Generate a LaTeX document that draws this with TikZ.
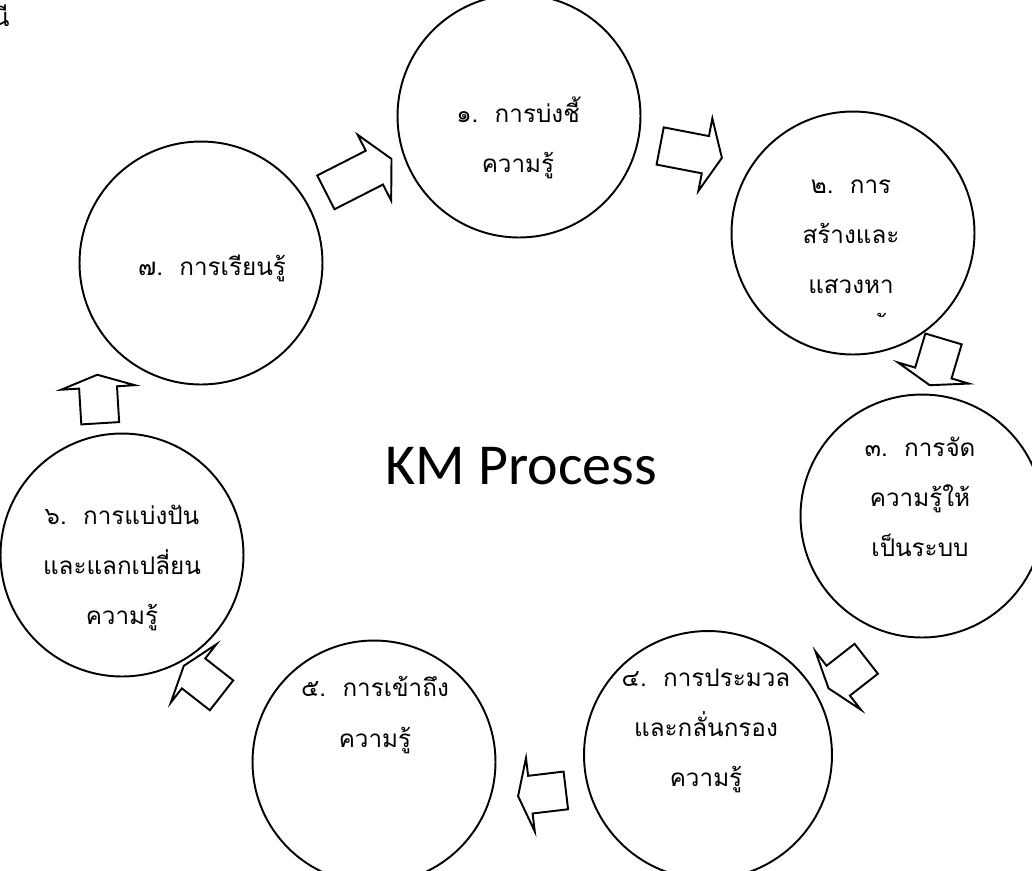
\documentclass[tikz,border=0pt]{standalone}
\usepackage{fontspec}
\newfontfamily\thaifont[Script=Thai]{Loma}
\newfontfamily\kmfont{Carlito}
\usetikzlibrary{shapes.arrows}
\begin{document}
\begin{tikzpicture}[x=0.02cm,y=-0.02cm,
  ring/.style={circle,draw,line width=1.1pt,inner sep=0pt,minimum size=4.86cm},
  label/.style={align=center,inner sep=0pt,font=\thaifont\fontsize{13.8}{28.5}\selectfont},
  blockarr/.style={single arrow,draw,line width=1.1pt,inner xsep=0pt,inner ysep=0.36cm,
    minimum width=1.44cm,single arrow head extend=0.36cm,anchor=tail}]
\useasboundingbox (0,0) rectangle (1032,870);
% circles
\node[ring] (c1) at (519,116) {};
\node[ring] (c2) at (853,233) {};
\node[ring] (c3) at (922,516) {};
\node[ring,minimum size=4.96cm] (c4) at (708,755) {};
\node[ring] (c5) at (374,762) {};
\node[ring] (c6) at (122,555) {};
\node[ring] (c7) at (201,263) {};
% texts
\node[label] (t1) at (518,138) {๑.\ \ การบ่งชี้\\ความรู้};
\node[label] (t2) at (851,237) {๒.\ \ การ\\สร้างและ\\แสวงหา};
\begin{scope}
  \clip (700,100) rectangle (1000,316);
  \node[label] (t2b) at (851,327) {ความรู้};
\end{scope}
\node[label] (t3) at (920,497) {๓.\ \ การจัด\\ความรู้ให้\\เป็นระบบ};
\node[label] (t4) at (706,731) {๔.\ \ การประมวล\\และกลั่นกรอง\\ความรู้};
\node[label] (t5) at (375,715) {๕.\ \ การเข้าถึง\\ความรู้};
\node[label] (t6) at (122,568) {๖.\ \ การแบ่งปัน\\และแลกเปลี่ยน\\ความรู้};
\node[label] (t7) at (212,268) {๗.\ \ การเรียนรู้};
\node[font=\kmfont\fontsize{33}{40}\selectfont,inner sep=0pt] (km) at (521,466) {KM Process};
\node[font=\thaifont\fontsize{14.5}{28.5}\selectfont,inner sep=0pt,anchor=base east] (frag) at (10,26) {นี};
% block arrows
\node[blockarr,rotate=-10.9,minimum height=1.258cm,single arrow tip angle=131] (a12) at (659.2,145.8) {};
\node[blockarr,rotate=-106.6,minimum height=0.966cm,single arrow tip angle=142] (a23) at (943.8,338) {};
\node[blockarr,rotate=-142,minimum height=0.958cm,single arrow tip angle=143] (a34) at (867,658.2) {};
\node[blockarr,rotate=-173.2,minimum height=0.962cm,single arrow tip angle=143] (a45) at (566.8,790.3) {};
\node[blockarr,rotate=142,minimum height=0.958cm,single arrow tip angle=143] (a56) at (222.3,695.9) {};
\node[blockarr,rotate=93.5,minimum height=0.972cm,single arrow tip angle=142] (a67) at (100.3,424.2) {};
\node[blockarr,rotate=27,minimum height=1.474cm,single arrow tip angle=125] (a71) at (325,192.8) {};
\end{tikzpicture}
\end{document}
